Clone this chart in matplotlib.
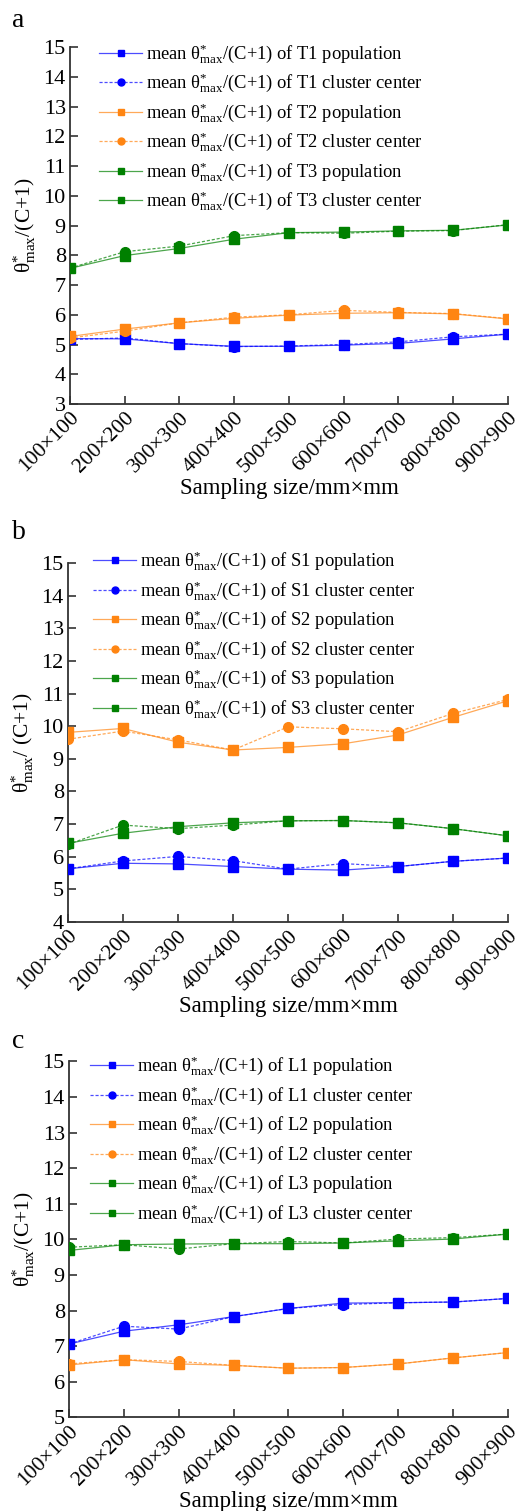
import matplotlib
matplotlib.use("Agg")
import matplotlib.pyplot as plt
from matplotlib.lines import Line2D
from matplotlib.colors import to_rgba

plt.rcParams['font.family'] = ['Liberation Serif', 'DejaVu Serif']
plt.rcParams['mathtext.fontset'] = 'custom'
plt.rcParams['mathtext.rm'] = 'Liberation Serif'
plt.rcParams['mathtext.it'] = 'Liberation Serif:italic'

categories = ["100×100", "200×200", "300×300", "400×400", "500×500",
              "600×600", "700×700", "800×800", "900×900"]

# Panel a (T)
T1_pop = [5.20, 5.19, 5.03, 4.94, 4.94, 4.98, 5.04, 5.19, 5.35]
T1_clu = [5.17, 5.22, 5.03, 4.93, 4.95, 5.00, 5.09, 5.26, 5.35]
T2_pop = [5.27, 5.52, 5.73, 5.88, 5.99, 6.05, 6.07, 6.03, 5.86]
T2_clu = [5.22, 5.45, 5.73, 5.92, 6.00, 6.15, 6.08, 6.04, 5.87]
T3_pop = [7.56, 7.99, 8.23, 8.54, 8.76, 8.78, 8.82, 8.84, 9.02]
T3_clu = [7.57, 8.12, 8.31, 8.66, 8.76, 8.74, 8.81, 8.83, 9.03]

# Panel b (S)
S1_pop = [5.63, 5.80, 5.78, 5.70, 5.62, 5.59, 5.70, 5.86, 5.96]
S1_clu = [5.63, 5.87, 6.01, 5.88, 5.62, 5.79, 5.70, 5.86, 5.96]
S2_pop = [9.81, 9.93, 9.51, 9.27, 9.35, 9.46, 9.73, 10.27, 10.78]
S2_clu = [9.60, 9.85, 9.58, 9.27, 9.98, 9.92, 9.83, 10.39, 10.82]
S3_pop = [6.41, 6.72, 6.92, 7.04, 7.10, 7.11, 7.04, 6.86, 6.64]
S3_clu = [6.38, 6.97, 6.86, 6.97, 7.10, 7.11, 7.04, 6.86, 6.64]

# Panel c (L)
L1_pop = [7.06, 7.42, 7.60, 7.83, 8.06, 8.21, 8.22, 8.24, 8.34]
L1_clu = [7.06, 7.56, 7.48, 7.83, 8.06, 8.17, 8.22, 8.24, 8.34]
L2_pop = [6.47, 6.62, 6.50, 6.46, 6.38, 6.40, 6.50, 6.67, 6.82]
L2_clu = [6.50, 6.62, 6.57, 6.46, 6.38, 6.40, 6.50, 6.67, 6.82]
L3_pop = [9.69, 9.85, 9.87, 9.88, 9.88, 9.90, 9.96, 10.01, 10.15]
L3_clu = [9.78, 9.85, 9.73, 9.88, 9.94, 9.90, 10.01, 10.05, 10.15]

BLUE = '#0000ff'
ORANGE = '#ff8512'
GREEN = '#008000'

TH = 'θ$^{*}_{\\mathrm{max}}$'

panels = [
    dict(letter='a', names=['T1', 'T2', 'T3'], data=[(T1_pop, T1_clu), (T2_pop, T2_clu), (T3_pop, T3_clu)],
         ylim=(3, 15), rect=[0.1323, 0.7326, 0.828, 0.2363], ylabel=TH + '/(C+1)',
         letter_y=0.995, leg=(0.049, 1.034)),
    dict(letter='b', names=['S1', 'S2', 'S3'], data=[(S1_pop, S1_clu), (S2_pop, S2_clu), (S3_pop, S3_clu)],
         ylim=(4, 15), rect=[0.1285, 0.3898, 0.8318, 0.2376], ylabel=TH + '/ (C+1)',
         letter_y=0.656, leg=(0.040, 1.057)),
    dict(letter='c', names=['L1', 'L2', 'L3'], data=[(L1_pop, L1_clu), (L2_pop, L2_clu), (L3_pop, L3_clu)],
         ylim=(5, 15), rect=[0.1304, 0.0620, 0.8299, 0.2355], ylabel=TH + '/(C+1)',
         letter_y=0.319, leg=(0.031, 1.040)),
]

fig = plt.figure(figsize=(5.29, 15.11), dpi=100)
colors = [BLUE, ORANGE, GREEN]
x = list(range(len(categories)))
dash = (0, (2.5, 1.5))


def lc(c):
    return to_rgba(c, 0.7)


for p in panels:
    ax = fig.add_axes(p['rect'])
    for (pop, clu), c in zip(p['data'], colors):
        ax.plot(x, pop, color=lc(c), lw=0.9, marker='s', ms=6.5, mfc=c, mec=c, zorder=3)
        ax.plot(x, clu, color=lc(c), lw=0.9, ls=dash, marker='o', ms=7, mfc=c, mec=c, zorder=3)
    handles = []
    labels = []
    for i, (nm, c) in enumerate(zip(p['names'], colors)):
        handles.append(Line2D([], [], color=lc(c), lw=0.9, marker='s', ms=4.5, mfc=c, mec=c))
        labels.append('mean ' + TH + '/(C+1) of %s population' % nm)
        if i < 2:
            handles.append(Line2D([], [], color=lc(c), lw=0.9, ls=dash, marker='o', ms=5, mfc=c, mec=c))
        else:
            handles.append(Line2D([], [], color=lc(c), lw=0.9, marker='s', ms=4.5, mfc=c, mec=c))
        labels.append('mean ' + TH + '/(C+1) of %s cluster center' % nm)
    ax.legend(handles, labels, loc='upper left', bbox_to_anchor=p['leg'], frameon=False,
              fontsize=13.3, handlelength=2.35, handletextpad=0.18, labelspacing=0.33,
              borderaxespad=0)
    ax.set_xlim(0, 8)
    ax.set_ylim(*p['ylim'])
    ax.set_yticks(range(p['ylim'][0], p['ylim'][1] + 1))
    ax.set_xticks(x)
    ax.set_xticklabels(categories, rotation=45, ha='right', rotation_mode='anchor', fontsize=15.5)
    ax.tick_params(axis='y', labelsize=16, pad=3)
    ax.tick_params(axis='x', pad=3)
    ax.tick_params(direction='in', length=6, width=1.2, color='#333333')
    for s in ['top', 'right']:
        ax.spines[s].set_visible(False)
    for s in ['left', 'bottom']:
        ax.spines[s].set_linewidth(1.3)
        ax.spines[s].set_color('#333333')
    ax.set_xlabel('Sampling size/mm×mm', fontsize=16.5, labelpad=1)
    ax.set_ylabel(p['ylabel'], fontsize=15.5, labelpad=4)
    fig.text(0.022, p['letter_y'], p['letter'], fontsize=20, ha='left', va='top')

fig.savefig('out.png', dpi=100)
